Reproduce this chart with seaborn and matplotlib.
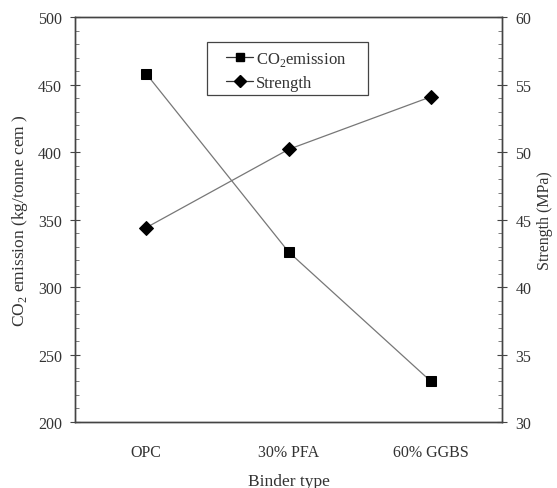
import matplotlib
matplotlib.use("Agg")
import matplotlib.pyplot as plt
import seaborn as sns
import pandas as pd
import numpy as np
from matplotlib.ticker import MultipleLocator
from matplotlib.lines import Line2D
from matplotlib.patches import Rectangle

categories = ["OPC", "30% PFA", "60% GGBS"]
co2_emission = [458, 326, 230]
strength = [44.4, 50.2, 54.1]

sns.set_style("white")
plt.rcParams['font.family'] = ['Liberation Serif', 'DejaVu Serif']
plt.rcParams['mathtext.fontset'] = 'custom'
plt.rcParams['mathtext.rm'] = 'Liberation Serif'

df = pd.DataFrame({"pos": np.arange(len(categories)), "co2": co2_emission, "strength": strength})

fig = plt.figure(figsize=(5.57, 4.89), dpi=100)
ax = fig.add_axes([0.1347, 0.135, 0.767, 0.828])
ax2 = ax.twinx()

sns.lineplot(data=df, x="pos", y="co2", ax=ax, color="#777777", linewidth=0.9,
             marker="s", markersize=7.5, markerfacecolor="black", markeredgecolor="black")
sns.lineplot(data=df, x="pos", y="strength", ax=ax2, color="#777777", linewidth=0.9,
             marker="D", markersize=7, markerfacecolor="black", markeredgecolor="black")

ax.set_xlim(-0.5, 2.5)
ax.set_ylim(200, 500)
ax2.set_ylim(30, 60)
ax.set_xticks(df["pos"])
ax.set_xticklabels(categories)
ax.yaxis.set_major_locator(MultipleLocator(50))
ax.yaxis.set_minor_locator(MultipleLocator(10))
ax2.yaxis.set_major_locator(MultipleLocator(5))
ax2.yaxis.set_minor_locator(MultipleLocator(1))

for a in (ax, ax2):
    for s in a.spines.values():
        s.set_color("#444444")
        s.set_linewidth(1.0)
        s.set_visible(True)
    a.tick_params(which="major", direction="inout", length=7, width=0.8, colors="#444444",
                  labelsize=11.5, labelcolor="#333333")
    a.tick_params(which="minor", direction="in", length=3, width=0.6, colors="#666666")

ax.tick_params(axis="x", pad=12)
ax.tick_params(axis="y", left=True, pad=6)
ax2.tick_params(axis="y", right=True, pad=6)

ax.set_xlabel("Binder type", fontsize=12.5, color="#333333", labelpad=10)
ax.set_ylabel("CO$_2$ emission (kg/tonne cem )", fontsize=12.5, color="#333333", labelpad=6)
ax2.set_ylabel("Strength (MPa)", fontsize=11.5, color="#333333", labelpad=4)

# legend frame
box = Rectangle((0.309, 0.807), 0.377, 0.131, transform=ax2.transAxes,
                facecolor="white", edgecolor="#444444", linewidth=0.9, zorder=5)
ax2.add_patch(box)

handles = [
    Line2D([], [], color="#333333", linewidth=0.9, marker="s", markersize=6,
           markerfacecolor="black", markeredgecolor="black"),
    Line2D([], [], color="#333333", linewidth=0.9, marker="D", markersize=6,
           markerfacecolor="black", markeredgecolor="black"),
]
leg = ax2.legend(handles, ["CO$_2$emission", "Strength"], loc="upper left",
                 bbox_to_anchor=(0.354, 0.918), frameon=False,
                 fontsize=12, handlelength=1.6,
                 handletextpad=0.2, borderpad=0, labelspacing=0.4, borderaxespad=0)
leg.set_zorder(6)
for t in leg.get_texts():
    t.set_color("#333333")

fig.savefig("out.png", dpi=100)
